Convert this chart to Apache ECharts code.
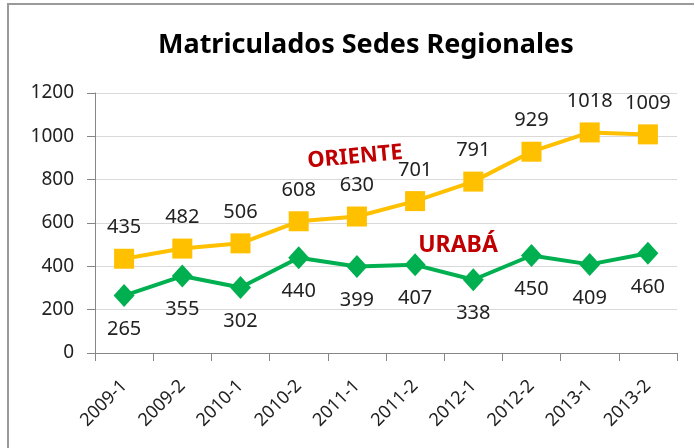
<!DOCTYPE html>
<html>
<head>
<meta charset="utf-8">
<script src="https://cdn.jsdelivr.net/npm/echarts@6/dist/echarts.min.js"></script>
<style>
  html, body { margin: 0; padding: 0; background: #fff; }
  #frame {
    position: absolute; left: 7px; top: 3px; width: 700px; height: 460px;
    border-left: 2px solid #9a9a9a; border-top: 2px solid #9a9a9a;
  }
  #myChart { position: absolute; left: 0; top: 0; width: 694px; height: 448px; }
</style>
</head>
<body>
<div id="frame"></div>
<div id="myChart"></div>
<script>
  const periodos = ['2009-1', '2009-2', '2010-1', '2010-2', '2011-1', '2011-2', '2012-1', '2012-2', '2013-1', '2013-2'];
  const oriente = [435, 482, 506, 608, 630, 701, 791, 929, 1018, 1009];
  const uraba = [265, 355, 302, 440, 399, 407, 338, 450, 409, 460];
  const yTicks = [0, 200, 400, 600, 800, 1000, 1200];

  const fuente = 'Noto Sans';
  let myChart = echarts.init(document.getElementById('myChart'));

  myChart.setOption({
    animation: false,
    textStyle: { fontFamily: fuente },
    title: {
      text: 'Matriculados Sedes Regionales',
      left: 153,
      top: 27,
      textStyle: { fontSize: 27, fontWeight: 'bold', color: '#000', fontFamily: fuente }
    },
    grid: { left: 95, right: 17, top: 93, bottom: 95 },
    xAxis: {
      type: 'category',
      data: periodos,
      boundaryGap: true,
      axisLine: { lineStyle: { color: '#868686', width: 1 } },
      axisTick: { show: true, length: 8, lineStyle: { color: '#868686' } },
      axisLabel: { rotate: 45, fontSize: 18, color: '#222', margin: 30, interval: 0 }
    },
    yAxis: {
      type: 'value',
      min: yTicks[0],
      max: yTicks[yTicks.length - 1],
      interval: 200,
      axisLine: { show: true, lineStyle: { color: '#868686', width: 1 } },
      axisTick: { show: true, length: 8, lineStyle: { color: '#868686' } },
      axisLabel: { fontSize: 19, color: '#222', margin: 21, formatter: v => String(v) },
      splitLine: { lineStyle: { color: '#d9d9d9', width: 1 } }
    },
    series: [
      {
        name: 'ORIENTE',
        type: 'line',
        data: oriente,
        symbol: 'rect',
        symbolSize: 20,
        lineStyle: { color: '#FFC000', width: 4 },
        itemStyle: { color: '#FFC000' },
        label: { show: true, position: 'top', distance: 11, fontSize: 20, color: '#222' }
      },
      {
        name: 'URABÁ',
        type: 'line',
        data: uraba,
        symbol: 'diamond',
        symbolSize: [21, 23],
        lineStyle: { color: '#00B050', width: 4 },
        itemStyle: { color: '#00B050' },
        label: { show: true, position: 'bottom', distance: 12, fontSize: 20, color: '#222' }
      }
    ],
    graphic: [
      {
        type: 'text', x: 355, y: 157, rotation: 0.09,
        style: { text: 'ORIENTE', fill: '#C00000', font: 'bold 22px "Noto Sans"', align: 'center', verticalAlign: 'middle' }
      },
      {
        type: 'text', x: 458, y: 245,
        style: { text: 'URABÁ', fill: '#C00000', font: 'bold 23px "Noto Sans"', align: 'center', verticalAlign: 'middle' }
      }
    ]
  });
</script>
</body>
</html>
